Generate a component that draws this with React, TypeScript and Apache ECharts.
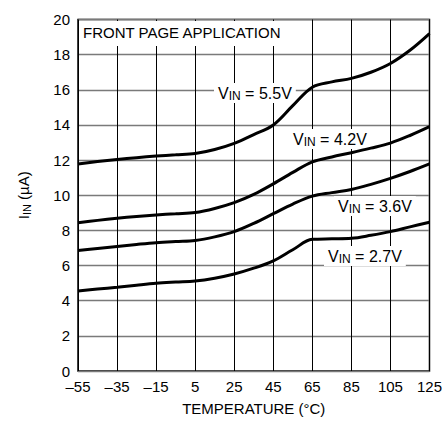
import React, { useEffect, useRef } from "react";
import * as echarts from "echarts";

const temps = [-55, -45, -35, -25, -15, -5, 5, 15, 25, 35, 45, 55, 65, 75, 85, 95, 105, 115, 125];
const iin55 = [11.78, 11.92, 12.04, 12.14, 12.23, 12.3, 12.37, 12.6, 12.95, 13.45, 14.0, 15.1, 16.15, 16.45, 16.65, 17.0, 17.5, 18.25, 19.2];
const iin42 = [8.44, 8.57, 8.69, 8.79, 8.88, 8.95, 9.02, 9.25, 9.58, 10.05, 10.65, 11.3, 11.9, 12.18, 12.42, 12.68, 12.97, 13.4, 13.9];
const iin36 = [6.85, 6.97, 7.09, 7.2, 7.3, 7.37, 7.43, 7.63, 7.93, 8.4, 8.95, 9.5, 9.95, 10.15, 10.33, 10.62, 10.96, 11.35, 11.78];
const iin27 = [4.55, 4.66, 4.76, 4.88, 4.99, 5.06, 5.12, 5.28, 5.52, 5.85, 6.27, 6.9, 7.49, 7.52, 7.55, 7.72, 7.93, 8.2, 8.46];
const seriesNames = ["5.5V", "4.2V", "3.6V", "2.7V"];
const xTicks = [-55, -35, -15, 5, 25, 45, 65, 85, 105, 125];

const FONT = "Liberation Sans";

export default function App() {
  const ref = useRef<HTMLDivElement>(null);
  useEffect(() => {
    if (!ref.current) return;
    const chart = echarts.init(ref.current, undefined, { renderer: "svg" });
    const offset = -xTicks[0];
    const all = [iin55, iin42, iin36, iin27];
    const labelRich = {
      v: { fontSize: 16, fontFamily: FONT, lineHeight: 18, verticalAlign: "middle", color: "#000" },
      s: { fontSize: 12, fontFamily: FONT, lineHeight: 10, verticalAlign: "bottom", color: "#000" },
    };
    const mkLabel = (name: string, x: number, y: number) => ({
      type: "text",
      x,
      y,
      z: 1,
      style: {
        text: `{v|V}{s|IN}{v| = ${name}}`,
        rich: labelRich,
        backgroundColor: "#fff",
        padding: [1, 4, 1, 4],
        verticalAlign: "middle",
      },
    });
    chart.setOption({
      animation: false,
      grid: {
        left: 78,
        right: 15,
        top: 19.5,
        bottom: 54,
        show: true,
        borderColor: "#000",
        borderWidth: 1.5,
        backgroundColor: "transparent",
      },
      xAxis: {
        type: "value",
        min: 0,
        max: 180,
        interval: 20,
        name: "TEMPERATURE (°C)",
        nameLocation: "middle",
        nameGap: 30,
        nameTextStyle: { fontFamily: FONT, fontSize: 15, color: "#000" },
        axisLine: { show: false },
        axisTick: { show: false },
        axisLabel: {
          fontFamily: FONT,
          fontSize: 15,
          color: "#000",
          margin: 8,
          formatter: (v: number) => {
            const t = Math.round(v - offset);
            return t < 0 ? "\u2013" + Math.abs(t) : String(t);
          },
        },
        splitLine: { show: true, lineStyle: { color: "#000", width: 1 } },
      },
      yAxis: {
        type: "value",
        min: 0,
        max: 20,
        interval: 2,
        name: "{a|I}{b|IN}{a| (µA)}",
        nameLocation: "middle",
        nameRotate: 90,
        nameGap: 46,
        nameTextStyle: {
          rich: {
            a: { fontFamily: FONT, fontSize: 15, color: "#000", lineHeight: 18, verticalAlign: "middle" },
            b: { fontFamily: FONT, fontSize: 11, color: "#000", lineHeight: 10, verticalAlign: "bottom" },
          },
        },
        axisLine: { show: false },
        axisTick: { show: false },
        axisLabel: { fontFamily: FONT, fontSize: 15, color: "#000", margin: 8 },
        splitLine: { show: true, lineStyle: { color: "#7a7a7a", width: 1.3 } },
      },
      series: all.map((vals, k) => ({
        type: "line",
        name: seriesNames[k],
        data: temps.map((t, i) => [t + offset, vals[i]]),
        smooth: 0.35,
        showSymbol: false,
        symbol: "none",
        lineStyle: { color: "#000", width: 3 },
        z: 5,
      })),
      graphic: [
        {
          type: "text",
          x: 79,
          y: 21,
          z: 1,
          style: {
            text: "FRONT PAGE APPLICATION",
            fontFamily: FONT,
            fontSize: 15,
            fill: "#000",
            backgroundColor: "#fff",
            padding: [4, 8, 6, 4],
            verticalAlign: "top",
          },
        },
        mkLabel(seriesNames[0], 214, 93),
        mkLabel(seriesNames[1], 289, 139),
        mkLabel(seriesNames[2], 334, 206),
        mkLabel(seriesNames[3], 324, 256),
      ],
    });
    return () => chart.dispose();
  }, []);
  return <div ref={ref} style={{ width: 445, height: 425, position: "absolute", left: 0, top: 0 }} />;
}
